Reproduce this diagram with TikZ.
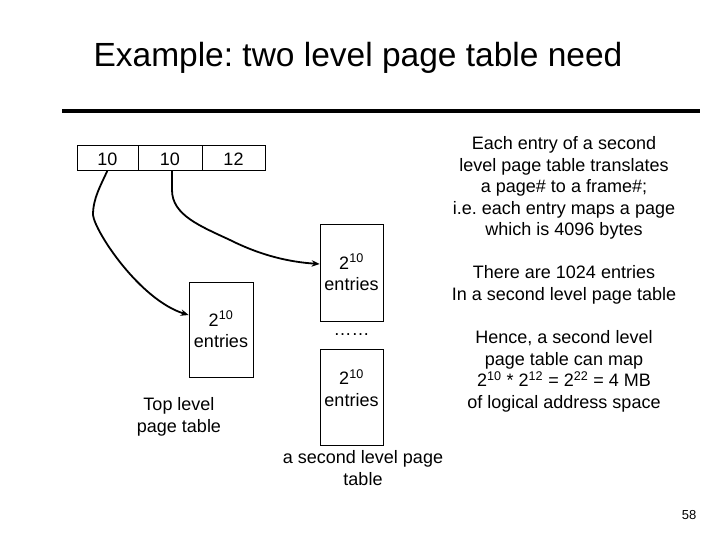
\documentclass[tikz,border=0pt]{standalone}
\usepackage{fontspec}
\setmainfont{Liberation Sans}
\usetikzlibrary{arrows.meta}
\frenchspacing
\begin{document}
\begin{tikzpicture}[x=1pt,y=-1pt,
  txt/.style={inner sep=0pt, align=center, font=\fontsize{18}{21.5}\selectfont},
  field/.style={draw, line width=0.8pt, inner sep=0pt, minimum width=#1, minimum height=25pt, text height=21pt, text depth=4pt, font=\fontsize{18}{21.5}\selectfont},
  tbl/.style={draw, line width=0.8pt, inner sep=0pt, align=center, minimum width=63pt, minimum height=96pt, font=\fontsize{18}{21.5}\selectfont},
  ptr/.style={line width=1.8pt, -{Stealth[length=8pt,width=6.5pt]}}
]
\fill[white] (0,0) rectangle (720,540);
\useasboundingbox (0,0) rectangle (720,540);

% title and rule
\node[inner sep=0pt, font=\fontsize{33.5}{40}\selectfont] (title) at (358,58) {Example: two level page table need};
\draw[line width=4pt] (62,111) -- (700,111);

% logical address fields
\node[field=61pt] (f1) at (107.5,157.5) {10};
\node[field=64pt] (f2) at (170,157.5) {10};
\node[field=63pt] (f3) at (233.5,157.5) {12};

% tables
\node[tbl, minimum width=64pt, minimum height=95pt] (top) at (221,329.5) {2\textsuperscript{10}\\entries};
\node[tbl, minimum height=97pt] (s1) at (351.5,272.5) {2\textsuperscript{10}\\entries};
\node[tbl, text depth=18pt] (s2) at (351.5,397) {2\textsuperscript{10}\\entries};
\node[txt] (dots) at (351.5,335) {……};

% labels
\node[txt] (toplbl) at (179,417) {Top level\\page table};
\node[txt] (seclbl) at (363,468) {a second level page\\table};

% pointers
\draw[ptr] (f1.south) .. controls (101,185) and (93,198) .. (93,215)
  .. controls (95,232) and (140,300) .. ([yshift=14.5pt]top.west);
\draw[ptr] ([xshift=2pt]f2.south) -- (172,190) .. controls (172,215) and (200,226) .. (230,240)
  .. controls (262,256) and (290,262) .. ([yshift=8.5pt]s1.west);

% explanations
\node[txt] (p1) at (564,188) {Each entry of a second\\level page table translates\\a page\# to a frame\#;\\i.e. each entry maps a page\\which is 4096 bytes};
\node[txt] (p2) at (564,285) {There are 1024 entries\\In a second level page table};
\node[txt] (p3) at (564,371.5) {Hence, a second level\\page table can map\\2\textsuperscript{10} * 2\textsuperscript{12} = 2\textsuperscript{22} = 4 MB\\of logical address space};

\node[inner sep=0pt, font=\fontsize{13}{15}\selectfont] (pg) at (689,515) {58};
\end{tikzpicture}
\end{document}
